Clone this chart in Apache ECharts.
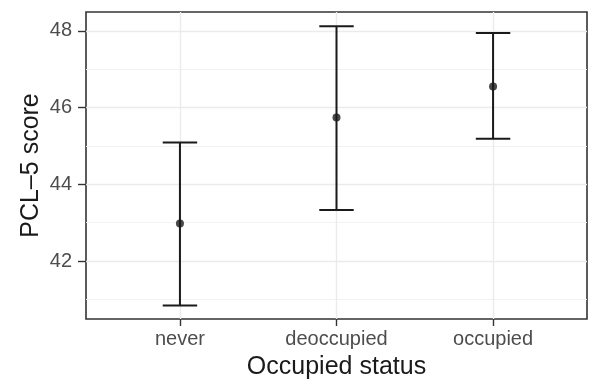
<!DOCTYPE html>
<html><head><meta charset="utf-8">
<script src="https://cdn.jsdelivr.net/npm/echarts@6/dist/echarts.min.js"></script>
<style>html,body{margin:0;padding:0;background:#fff}#c{width:590px;height:390px}</style>
</head><body><div id="c"></div>
<script>
const categories = ['never', 'deoccupied', 'occupied'];
const means = [42.98, 45.74, 46.55];
const lowers = [40.84, 43.33, 45.19];
const uppers = [45.09, 48.12, 47.94];
const yMajorTicks = [42, 44, 46, 48];
const yMinorTicks = [41, 43, 45, 47];
const xPositions = [1, 2, 3];

const font = '"Liberation Sans", Arial, Helvetica, sans-serif';
const chart = echarts.init(document.getElementById('c'));
const errData = categories.map((c, i) => [xPositions[i], lowers[i], uppers[i]]);
const ptData = categories.map((c, i) => [xPositions[i], means[i]]);
const capHalf = 0.11;

chart.setOption({
  animation: false,
  backgroundColor: '#fff',
  grid: {left: 86, right: 3, top: 12, bottom: 71, show: true, borderColor: '#333', borderWidth: 1.6, backgroundColor: 'transparent'},
  xAxis: {
    type: 'value', min: 0.4, max: 3.6,
    name: 'Occupied status', nameLocation: 'middle', nameGap: 36, nameMoveOverlap: false,
    nameTextStyle: {fontFamily: font, fontSize: 25, color: '#1a1a1a'},
    axisLine: {show: false},
    axisTick: {show: true, length: 7, customValues: xPositions, lineStyle: {color: '#333', width: 1.4}},
    axisLabel: {customValues: xPositions, margin: 10, fontFamily: font, fontSize: 20, color: '#4d4d4d',
      formatter: v => categories[Math.round(v) - 1] || ''},
    splitLine: {show: true, lineStyle: {color: '#ebebeb', width: 1.4}}
  },
  yAxis: [{
    type: 'value', min: 40.49, max: 48.49,
    name: 'PCL\u20135 score', nameLocation: 'middle', nameGap: 42, nameMoveOverlap: false,
    nameTextStyle: {fontFamily: font, fontSize: 25, color: '#1a1a1a'},
    axisLine: {show: false},
    axisTick: {show: true, length: 8, customValues: yMajorTicks, lineStyle: {color: '#333', width: 1.4}},
    axisLabel: {customValues: yMajorTicks, margin: 14, fontFamily: font, fontSize: 20, color: '#4d4d4d'},
    splitLine: {show: true, lineStyle: {color: '#ebebeb', width: 1.4}}
  }, {
    type: 'value', min: 40.49, max: 48.49, position: 'left',
    axisLine: {show: false},
    axisTick: {show: false, customValues: yMinorTicks},
    axisLabel: {show: false, customValues: yMinorTicks},
    splitLine: {show: true, lineStyle: {color: '#f0f0f0', width: 0.9}}
  }],
  series: [{
    type: 'custom',
    data: errData,
    z: 3,
    renderItem: function (params, api) {
      const x = api.value(0), lo = api.value(1), hi = api.value(2);
      const pLo = api.coord([x, lo]), pHi = api.coord([x, hi]);
      const pL = api.coord([x - capHalf, hi]), pR = api.coord([x + capHalf, hi]);
      const half = (pR[0] - pL[0]) / 2;
      const st = {stroke: '#1a1a1a', lineWidth: 2, fill: 'none'};
      return {type: 'group', children: [
        {type: 'line', shape: {x1: pLo[0], y1: pLo[1], x2: pHi[0], y2: pHi[1]}, style: st},
        {type: 'line', shape: {x1: pHi[0] - half, y1: pHi[1], x2: pHi[0] + half, y2: pHi[1]}, style: st},
        {type: 'line', shape: {x1: pLo[0] - half, y1: pLo[1], x2: pLo[0] + half, y2: pLo[1]}, style: st}
      ]};
    },
    encode: {x: 0, y: [1, 2]}
  }, {
    type: 'scatter', data: ptData, symbol: 'circle', symbolSize: 8, z: 4,
    itemStyle: {color: '#1a1a1a'}
  }]
});
</script></body></html>
